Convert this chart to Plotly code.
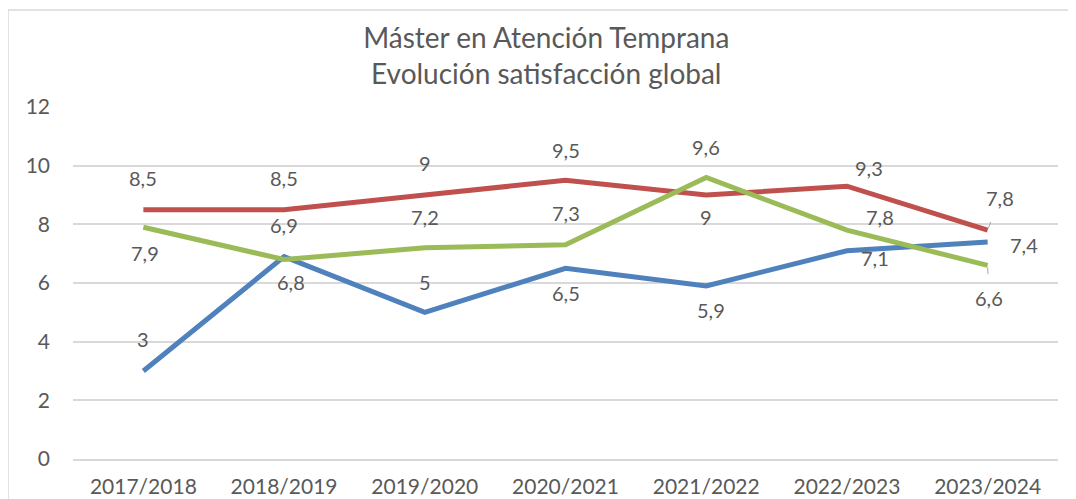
import plotly.graph_objects as go

# data
years = ["2017/2018", "2018/2019", "2019/2020", "2020/2021", "2021/2022", "2022/2023", "2023/2024"]
serie_azul = [3, 6.9, 5, 6.5, 5.9, 7.1, 7.4]
serie_roja = [8.5, 8.5, 9, 9.5, 9, 9.3, 7.8]
serie_verde = [7.9, 6.8, 7.2, 7.3, 9.6, 7.8, 6.6]
y_ticks = [0, 2, 4, 6, 8, 10, 12]

FONT = "Lato"
GRAY = "#595959"

# label offsets in pixels (dx, dy, leader line)
off_azul = [(0, 32, 0), (0, 32, 0), (0, 30, 0), (0, -25, 0), (5, -24, 0), (28, -7, 0), (36, -3, 0)]
off_roja = [(0, 32, 0), (0, 32, 0), (0, 32, 0), (0, 30, 0), (0, -22, 0), (22, 18, 0), (12, 32, 1)]
off_verde = [(2, -26, 0), (7, -22, 0), (0, 31, 0), (0, 32, 0), (0, 30, 0), (33, 13, 0), (1, -33, 1)]

fig = go.Figure()
series = [
    (serie_azul, "#4F81BD", off_azul),
    (serie_roja, "#C0504D", off_roja),
    (serie_verde, "#9BBB59", off_verde),
]
for vals, color, offs in series:
    fig.add_trace(go.Scatter(x=years, y=vals, mode="lines",
                             line=dict(color=color, width=5), hoverinfo="skip"))

annotations = []
for vals, color, offs in series:
    for x, v, (dx, dy, leader) in zip(years, vals, offs):
        txt = ("%g" % v).replace(".", ",")
        if leader:
            annotations.append(dict(x=x, y=v, text=txt, showarrow=True, arrowhead=0,
                                    arrowcolor="#a6a6a6", arrowwidth=1, ax=dx, ay=-dy,
                                    standoff=2, startstandoff=11,
                                    font=dict(family=FONT, size=20, color=GRAY)))
        else:
            annotations.append(dict(x=x, y=v, text=txt, showarrow=False,
                                    xshift=dx, yshift=dy,
                                    font=dict(family=FONT, size=20, color=GRAY)))

# page body has an 8px margin, so the figure is 8px smaller than the window
fig.update_layout(
    width=1068, height=491,
    margin=dict(l=65, r=18, t=99, b=40),
    paper_bgcolor="white", plot_bgcolor="white",
    showlegend=False,
    title=dict(text="Máster en Atención Temprana<br>Evolución satisfacción global",
               x=0.504, xref="container", xanchor="center", y=0.919, yanchor="middle",
               font=dict(family=FONT, size=28, color=GRAY)),
    font=dict(family=FONT, size=20, color=GRAY),
    annotations=annotations,
    shapes=[dict(type="rect", xref="paper", yref="paper", x0=-0.066, x1=1.1,
                 y0=-0.3, y1=1.2756, line=dict(color="#d9d9d9", width=1.5),
                 fillcolor="rgba(0,0,0,0)", layer="below")],
)
fig.update_xaxes(range=[-0.5, 6.5], showgrid=False, showline=True, linecolor="#d9d9d9",
                 linewidth=1.5, ticks="", ticklabelstandoff=8, automargin=False,
                 tickfont=dict(size=21, color=GRAY))
fig.update_yaxes(range=[0, 12], tickvals=y_ticks, showgrid=True, gridcolor="#d9d9d9",
                 gridwidth=1.5, zeroline=False, showline=False, ticks="",
                 ticklabelstandoff=22, automargin=False,
                 tickfont=dict(size=21, color=GRAY))

fig.write_html("out.html")
